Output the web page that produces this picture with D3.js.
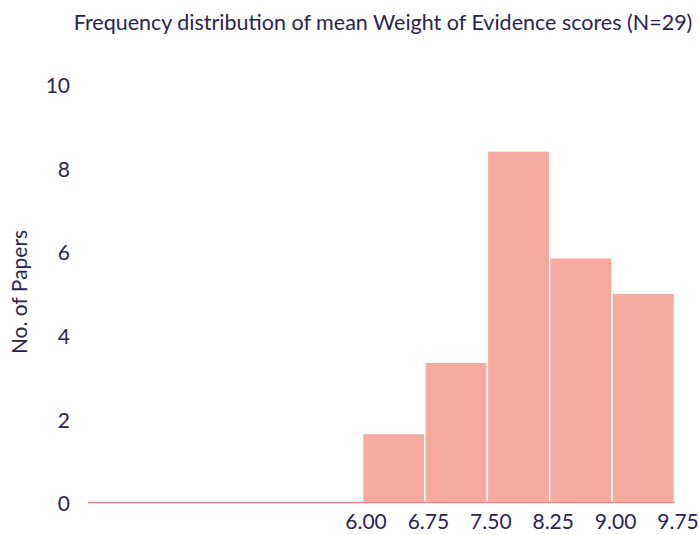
<!DOCTYPE html>
<html>
<head>
<meta charset="utf-8">
<script src="https://cdn.jsdelivr.net/npm/d3@7"></script>
<style>
  body { margin: 0; background: #fff; }
  text { font-family: Lato, "Open Sans", sans-serif; fill: #2b2450; }
</style>
</head>
<body>
<div id="chart"></div>
<script>
// bin edges and heights
const binEdges = [6.00, 6.75, 7.50, 8.25, 9.00, 9.75];
const counts = [1.65, 3.35, 8.4, 5.85, 5.0];
const yTicks = [0, 2, 4, 6, 8, 10];
const xStart = 2.7;
const title = "Frequency distribution of mean Weight of Evidence scores (N=29)";
const yLabel = "No. of Papers";

const W = 699, H = 535;
const svg = d3.select("#chart").append("svg")
  .attr("width", W)
  .attr("height", H);

const x = d3.scaleLinear()
  .domain([xStart, binEdges[binEdges.length - 1]])
  .range([88, 674.5]);
const y = d3.scaleLinear()
  .domain([0, 10])
  .range([502.5, 84]);

const bins = counts.map((c, i) => ({ x0: binEdges[i], x1: binEdges[i + 1], n: c }));

svg.selectAll("rect.bar")
  .data(bins)
  .enter().append("rect")
  .attr("class", "bar")
  .attr("x", d => x(d.x0))
  .attr("y", d => y(d.n))
  .attr("width", d => x(d.x1) - x(d.x0))
  .attr("height", d => y(0) - y(d.n))
  .style("fill", "#f5aa9d")
  .style("stroke", "#fff")
  .style("stroke-width", 1.5);

// baseline
svg.append("line")
  .attr("x1", x(xStart)).attr("x2", x(binEdges[binEdges.length - 1]))
  .attr("y1", y(0)).attr("y2", y(0))
  .style("stroke", "#ef7f7b")
  .style("stroke-width", 1.6);

// x axis
const xAxis = svg.append("g")
  .attr("transform", "translate(0," + y(0) + ")")
  .call(d3.axisBottom(x).tickValues(binEdges).tickFormat(d3.format(".2f")).tickSize(0).tickPadding(12));
xAxis.select(".domain").remove();
xAxis.selectAll("text")
  .attr("dx", 3)
  .style("font-size", "21px")
  .style("fill", "#2b2450");

// y axis
const yAxis = svg.append("g")
  .attr("transform", "translate(70,0)")
  .call(d3.axisLeft(y).tickValues(yTicks).tickSize(0).tickPadding(0));
yAxis.select(".domain").remove();
yAxis.selectAll("text")
  .attr("dy", "0.4em")
  .style("font-size", "21px")
  .style("fill", "#2b2450");

svg.append("text")
  .attr("transform", "translate(27,292) rotate(-90)")
  .attr("text-anchor", "middle")
  .style("font-size", "21px")
  .text(yLabel);

svg.append("text")
  .attr("x", 383)
  .attr("y", 30)
  .attr("text-anchor", "middle")
  .style("font-size", "21.5px")
  .text(title);
</script>
</body>
</html>
